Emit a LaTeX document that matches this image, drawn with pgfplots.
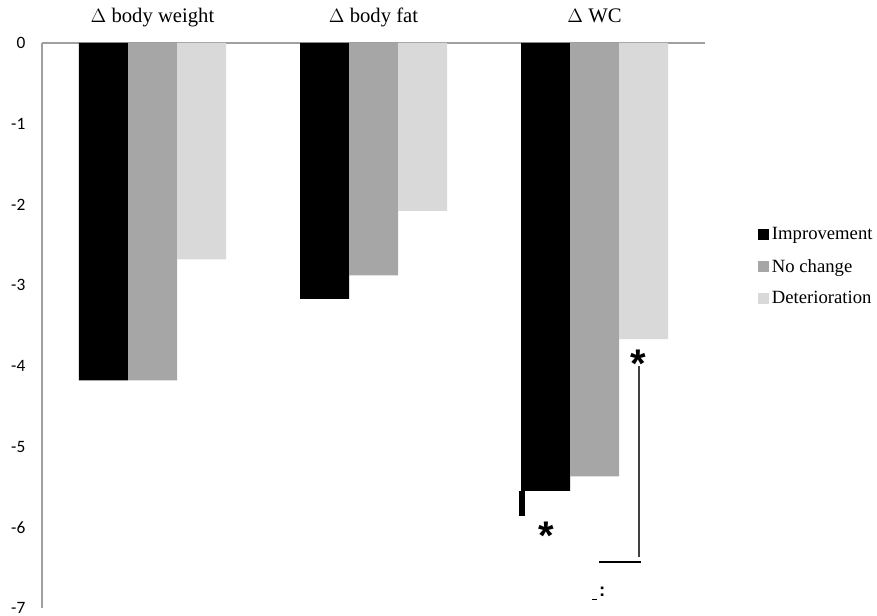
\documentclass[border=0pt]{standalone}
\usepackage{fontspec}
\setmainfont{Liberation Serif}
\newfontfamily\calibri{Carlito}
\newfontfamily\arial{Liberation Sans}
\usepackage{pgfplots}
\pgfplotsset{compat=1.18}
\definecolor{cNo}{HTML}{A6A6A6}
\definecolor{cDet}{HTML}{D9D9D9}
\definecolor{axgray}{HTML}{A0A0A0}
\begin{document}
\begin{tikzpicture}
\useasboundingbox (-31.5pt,-6pt) rectangle (626.25pt,456pt);
\begin{axis}[
  at={(0,0)}, anchor=south west,
  scale only axis, width=497.25pt, height=423.75pt,
  xmin=-0.5, xmax=2.5, ymin=-7, ymax=0,
  axis x line*=top, axis y line*=left,
  axis line style={axgray, line width=0.8pt},
  xtick={0,1,2},
  xticklabels={$\Delta$ body weight, $\Delta$ body fat, $\Delta$ WC},
  xticklabel style={font=\fontsize{15.5}{17}\selectfont, yshift=8pt, text height=11pt, text depth=3.5pt},
  ytick={0,-1,-2,-3,-4,-5,-6,-7},
  yticklabel={\pgfmathparse{int(\tick)}\pgfmathresult},
  yticklabel style={font=\calibri\fontsize{13}{15}\selectfont, xshift=-9pt},
  major tick length=0pt,
  ybar, bar width=36.75pt,
  clip=false,
  legend style={at={(1.08,0.604)}, anchor=west, draw=none, fill=none,
    font=\fontsize{14}{16}\selectfont, row sep=9pt, inner sep=0pt},
  legend cell align=left,
  legend image code/.code={\fill[#1] (0pt,-4pt) rectangle (8.25pt,4.25pt);},
]
\addplot[fill=black, draw=none, bar shift=-36.75pt] coordinates {(0,-4.18) (1,-3.17) (2,-5.55)};
\addplot[fill=cNo, draw=none, bar shift=0pt] coordinates {(0,-4.18) (1,-2.88) (2,-5.37)};
\addplot[fill=cDet, draw=none, bar shift=36.75pt] coordinates {(0,-2.68) (1,-2.08) (2,-3.67)};
\legend{Improvement, No change, Deterioration}
\fill[black] (axis cs:1.658,-5.55) rectangle (axis cs:1.686,-5.86);
\node[font=\arial\bfseries\fontsize{30}{30}\selectfont] at (axis cs:1.78,-6.1) {*};
\node[font=\arial\bfseries\fontsize{30}{30}\selectfont] at (axis cs:2.197,-3.97) {*};
\draw[black!75, line width=0.9pt] (axis cs:2.201,-4.0) -- (axis cs:2.201,-6.37);
\draw[black, line width=0.9pt] (axis cs:2.02,-6.43) -- (axis cs:2.21,-6.43);
\node[font=\arial\bfseries\fontsize{14}{14}\selectfont] at (axis cs:2.035,-6.8) {:};
\draw[black, line width=0.6pt] (axis cs:1.99,-6.89) -- (axis cs:2.01,-6.89);
\end{axis}
\end{tikzpicture}
\end{document}
